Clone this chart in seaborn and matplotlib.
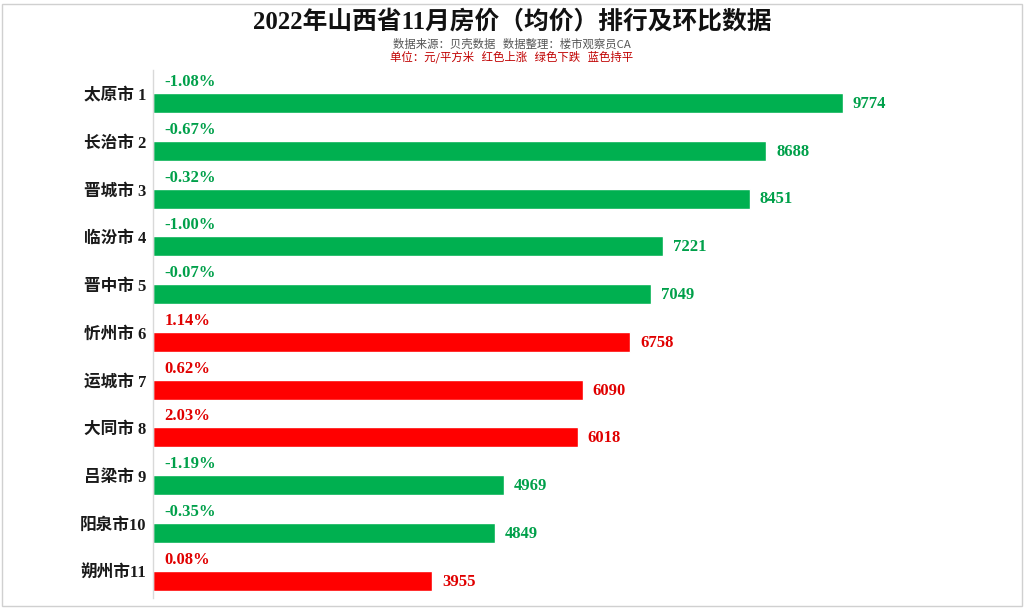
import matplotlib
matplotlib.use("Agg")
import matplotlib.pyplot as plt
import seaborn as sns
import pandas as pd
from matplotlib.patches import Rectangle

cities = ["太原市 1", "长治市 2", "晋城市 3", "临汾市 4", "晋中市 5", "忻州市 6",
          "运城市 7", "大同市 8", "吕梁市 9", "阳泉市10", "朔州市11"]
prices = [9774, 8688, 8451, 7221, 7049, 6758, 6090, 6018, 4969, 4849, 3955]
changes = [-1.08, -0.67, -0.32, -1.00, -0.07, 1.14, 0.62, 2.03, -1.19, -0.35, 0.08]

GREEN = "#00B050"
RED = "#FF0000"
GREEN_T = "#00A04A"
RED_T = "#E00000"

sns.set_theme(style="white")
plt.rcParams['font.family'] = ['Liberation Serif', 'Noto Sans CJK SC', 'DejaVu Sans']

df = pd.DataFrame({"city": cities, "price": prices, "change": changes})
df["trend"] = ["down" if c < 0 else "up" for c in changes]

fig = plt.figure(figsize=(10.24, 6.11), dpi=100)
ax = fig.add_axes([153/1024, 1 - 598/611, (960-153)/1024, (598-70)/611])

sns.barplot(data=df, y="city", x="price", hue="trend", orient="h",
            palette={"down": GREEN, "up": RED}, dodge=False, width=0.42,
            legend=False, ax=ax, saturation=1)

ax.set_xlim(0, (960-153)/0.0706)
ax.set_ylim(10.36, -0.69)
ax.set_xlabel("")
ax.set_ylabel("")
ax.set_xticks([])
ax.set_yticks([])
for s in ["top", "right", "bottom"]:
    ax.spines[s].set_visible(False)
ax.spines["left"].set_color("#d9d9d9")
ax.spines["left"].set_linewidth(1)

fam = ['Liberation Serif', 'Noto Sans CJK SC']
trans = ax.get_yaxis_transform()
for i, (c, p, ch) in enumerate(zip(cities, prices, changes)):
    tc = GREEN_T if ch < 0 else RED_T
    ax.text(-0.008, i - 0.15, c, transform=trans, ha="right", va="center",
            fontsize=12, fontweight="bold", family=fam, color="#1a1a1a")
    ax.text(p + 140, i + 0.02, f"{p}", ha="left", va="center",
            fontsize=12, fontweight="bold", family=fam, color=tc)
    ax.text(160, i - 0.44, f"{ch:.2f}%", ha="left", va="center",
            fontsize=12, fontweight="bold", family=fam, color=tc)

fig.text(0.5, 1 - 22/611, "2022年山西省11月房价（均价）排行及环比数据", ha="center", va="center",
         fontsize=17.8, fontweight="bold", family=fam, color="#111111")
fig.text(0.5, 1 - 44/611, "数据来源：贝壳数据   数据整理：楼市观察员CA", ha="center", va="center",
         fontsize=8.2, family=['Noto Sans CJK SC', 'DejaVu Sans'], color="#555555")
fig.text(0.5, 1 - 57/611, "单位：元/平方米   红色上涨   绿色下跌   蓝色持平", ha="center", va="center",
         fontsize=8.2, family=['Noto Sans CJK SC', 'DejaVu Sans'], color="#C00000")

fig.patches.append(Rectangle((0.002, 0.008), 0.996, 0.986, transform=fig.transFigure,
                             fill=False, edgecolor="#d0d0d0", linewidth=1))

fig.savefig("out.png", dpi=100)
